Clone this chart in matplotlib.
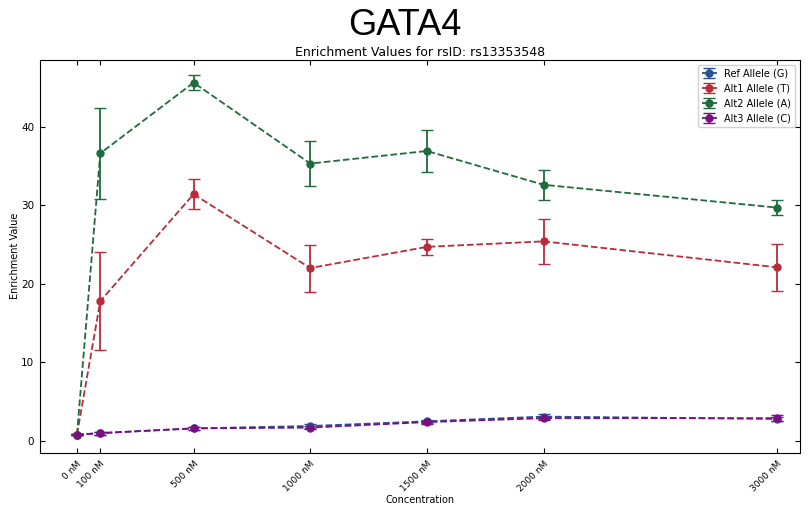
import numpy as np
import matplotlib
matplotlib.use("Agg")
import matplotlib.pyplot as plt

# Concentrations (nM) and tick labels
concentrations = [0, 100, 500, 1000, 1500, 2000, 3000]
tick_labels = ["0 nM", "100 nM", "500 nM", "1000 nM", "1500 nM", "2000 nM", "3000 nM"]

# Enrichment values per allele
ref_values = [0.8, 1.0, 1.6, 1.9, 2.5, 3.1, 2.8]
ref_errors = [0.1, 0.2, 0.2, 0.2, 0.2, 0.3, 0.3]
alt1_values = [0.8, 17.8, 31.4, 22.0, 24.7, 25.4, 22.1]
alt1_errors = [0.1, 6.2, 1.9, 3.0, 1.0, 2.9, 3.0]
alt2_values = [0.8, 36.6, 45.6, 35.3, 36.9, 32.6, 29.7]
alt2_errors = [0.1, 5.8, 1.0, 2.9, 2.7, 1.9, 0.9]
alt3_values = [0.8, 1.0, 1.6, 1.7, 2.4, 2.9, 2.9]
alt3_errors = [0.1, 0.2, 0.2, 0.2, 0.2, 0.2, 0.4]

series = [
    ("Ref Allele (G)", ref_values, ref_errors, "#2b4f92"),
    ("Alt1 Allele (T)", alt1_values, alt1_errors, "#b82c3a"),
    ("Alt2 Allele (A)", alt2_values, alt2_errors, "#1f6b3c"),
    ("Alt3 Allele (C)", alt3_values, alt3_errors, "#7b0f82"),
]

fig = plt.figure(figsize=(8.09, 5.07), dpi=100)
ax = fig.add_axes([0.049, 0.107, 0.940, 0.775])

for label, values, errors, color in series:
    ax.errorbar(concentrations, values, yerr=errors, label=label, color=color,
                linestyle="--", marker="o", markersize=5, linewidth=1.3,
                capsize=4, elinewidth=1.3, ecolor=color)

ax.set_xticks(concentrations)
ax.set_xticklabels(tick_labels, rotation=45, fontsize=6.5,
                   ha="right", rotation_mode="anchor")
ax.set_xlim(-160, 3100)
ax.set_ylim(-1.5, 48.5)
ax.set_yticks([0, 10, 20, 30, 40])
ax.tick_params(axis="both", direction="in", top=True, right=True)
ax.tick_params(axis="y", labelsize=7.5, pad=4)
ax.tick_params(axis="x", pad=5)
ax.set_xlabel("Concentration", fontsize=7, labelpad=1)
ax.set_ylabel("Enrichment Value", fontsize=7, labelpad=1)
ax.set_title("Enrichment Values for rsID: rs13353548", fontsize=9, pad=3)

fig.suptitle("GATA4", fontsize=26, y=0.985, family="Liberation Sans")

ax.legend(loc="upper right", fontsize=7, framealpha=0.9, handlelength=1.5)

fig.savefig("out.png", dpi=100)
